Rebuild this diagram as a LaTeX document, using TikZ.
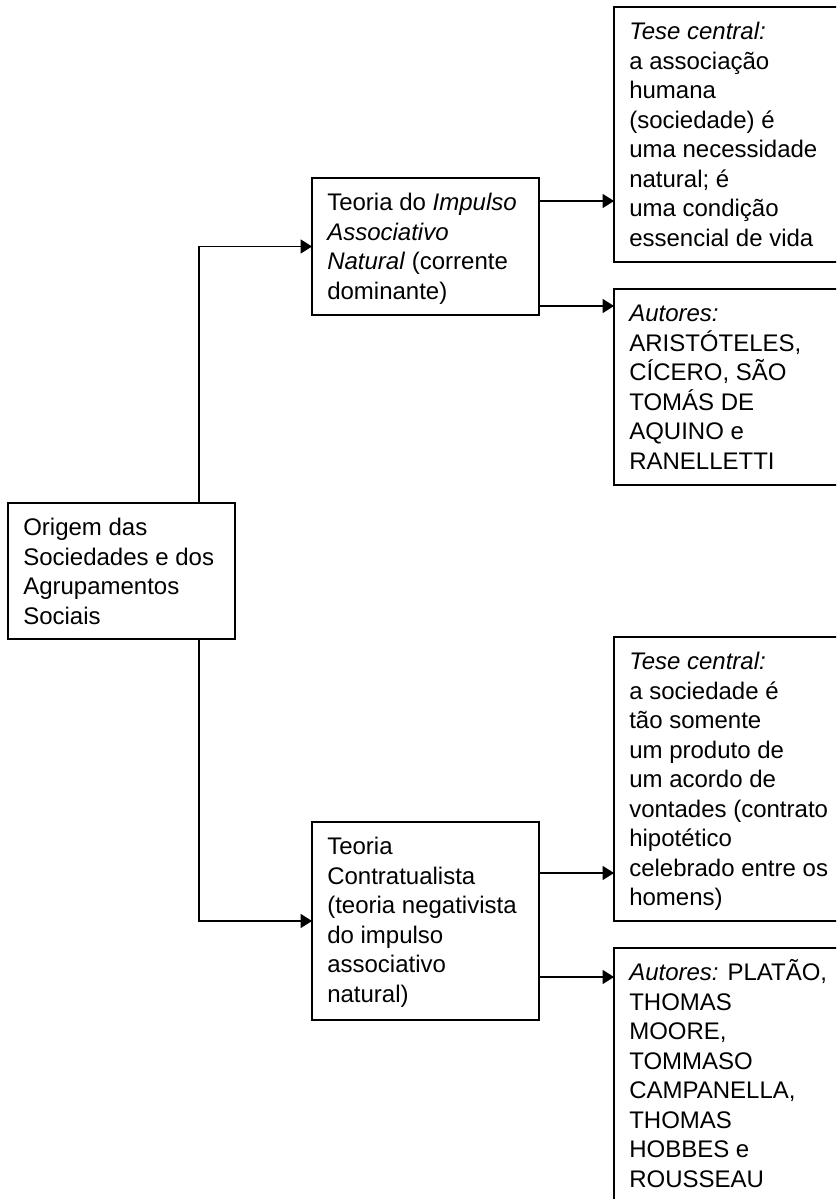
\documentclass[tikz,border=0pt]{standalone}
\usepackage{fontspec}
\setmainfont{Liberation Sans}
\usetikzlibrary{arrows.meta,calc}

% strut that fixes the height of the first line of every text block
\newcommand{\firstline}{\rule{0pt}{20pt}}

\begin{document}
\begin{tikzpicture}[x=0.75pt,y=-0.75pt,
  box/.style={draw=black, line width=0.9pt, fill=white, minimum width=170.25pt,
              anchor=north west, inner sep=0pt, outer sep=0pt},
  txt/.style={anchor=north west, align=left, inner sep=0pt,
              font=\fontsize{18}{22.1}\selectfont},
  arr/.style={draw=black, line width=0.9pt, -{Triangle[length=8.5pt,width=10.5pt]}}]

  % page frame
  \path[use as bounding box, fill=white] (0,0) rectangle (836,1199);
  \clip (0,0) rectangle (836,1199);

  % boxes
  \node[box, minimum height=102pt]    (orig) at (8,503)   {};
  \node[box, minimum height=102.75pt] (um)   at (312,178) {};
  \node[box, minimum height=191.25pt] (ur1)  at (614,7)   {};
  \node[box, minimum height=147pt]    (ur2)  at (614,289) {};
  \node[box, minimum height=148.5pt]  (lm)   at (312,822) {};
  \node[box, minimum height=213pt]    (lr1)  at (614,637) {};
  \node[box, minimum height=225pt]    (lr2)  at (614,948) {};

  % texts
  \node[txt] (orig-t) at ($(orig.north west)+(15,6)$)
    {\firstline Origem das\\Sociedades e dos\\Agrupamentos\\Sociais};
  \node[txt] (um-t) at ($(um.north west)+(15,6)$)
    {\firstline Teoria do \textit{Impulso}\\\textit{Associativo}\\\textit{Natural} (corrente\\dominante)};
  \node[txt] (ur1-t) at ($(ur1.north west)+(15,6)$)
    {\firstline\textit{Tese central:}\\a associação\\humana\\(sociedade) é\\uma necessidade\\natural; é\\uma condição\\essencial de vida};
  \node[txt] (ur2-t) at ($(ur2.north west)+(15,6)$)
    {\firstline\textit{Autores:}\\ARISTÓTELES,\\CÍCERO, SÃO\\TOMÁS DE\\AQUINO e\\RANELLETTI};
  \node[txt] (lm-t) at ($(lm.north west)+(15,6)$)
    {\firstline Teoria\\Contratualista\\(teoria negativista\\do impulso\\associativo\\natural)};
  \node[txt] (lr1-t) at ($(lr1.north west)+(15,6)$)
    {\firstline\textit{Tese central:}\\a sociedade é\\tão somente\\um produto de\\um acordo de\\vontades (contrato\\hipotético\\celebrado entre os\\homens)};
  \node[txt] (lr2-t) at ($(lr2.north west)+(15,6)$)
    {\firstline\textit{Autores:} PLATÃO,\\THOMAS\\MOORE,\\TOMMASO\\CAMPANELLA,\\THOMAS\\HOBBES e\\ROUSSEAU};

  % trunk from the origin box to both theories
  \coordinate (trunk) at (199,0);
  \draw[arr] (orig.north -| trunk) |- (um.west);
  \draw[arr] (orig.south -| trunk) |- (lm.west);

  % branches to thesis and authors
  \draw[arr] ($(um.north east)+(0,23)$)  -- ($(ur1.north west)+(0,194)$);
  \draw[arr] ($(um.south east)+(0,-9)$)  -- ($(ur2.north west)+(0,17)$);
  \draw[arr] ($(lm.north east)+(0,51)$)  -- ($(lr1.north west)+(0,236)$);
  \draw[arr] ($(lm.north east)+(0,155)$) -- ($(lr2.north west)+(0,29)$);
\end{tikzpicture}
\end{document}
